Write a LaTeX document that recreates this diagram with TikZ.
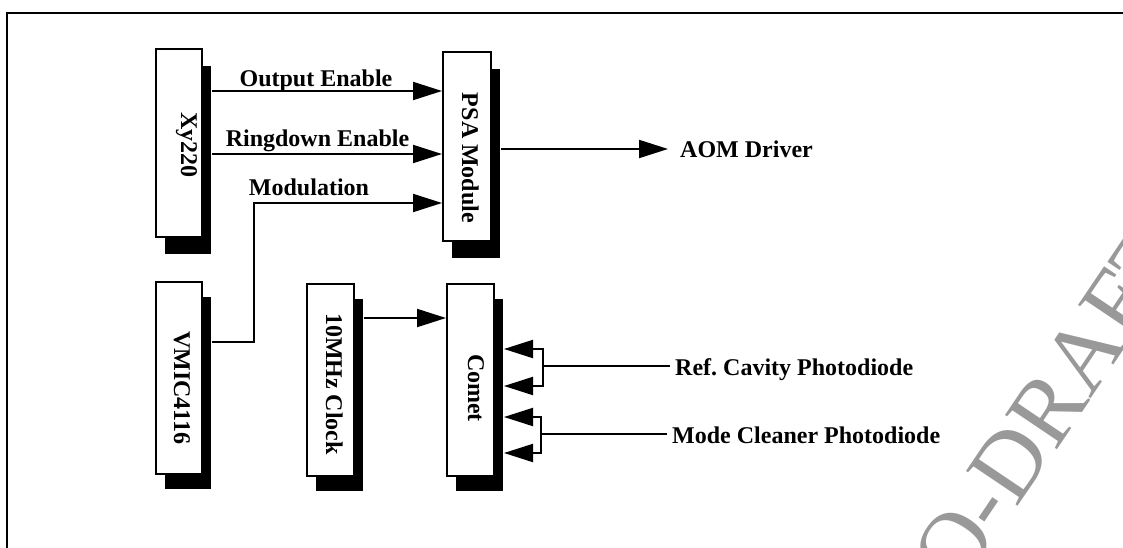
\documentclass[tikz,border=0pt]{standalone}
\usepackage{fontspec}
\setmainfont{Liberation Serif}
\usetikzlibrary{arrows.meta,shadows}
\begin{document}
\begin{tikzpicture}[x=1pt,y=-1pt,
  box/.style={draw, line width=2pt, fill=white, inner sep=0pt,
    drop shadow={shadow xshift=9pt, shadow yshift=-15pt, fill=black, opacity=1}},
  tallbox/.style={draw, line width=2pt, fill=white, inner sep=0pt,
    drop shadow={shadow xshift=9pt, shadow yshift=-17pt, fill=black, opacity=1}},
  lbl/.style={font=\fontsize{24}{28}\selectfont\bfseries, inner sep=0pt},
  vlbl/.style={lbl, rotate=-90, anchor=base},
  wire/.style={line width=2pt},
  arr/.style={wire, -{Triangle[length=29pt,width=18pt]}},
  wmark/.style={font=\fontsize{95}{100}\selectfont, text=black!40, inner sep=0pt}
]
\useasboundingbox (0,0) rectangle (1123,548);

% watermark
\begin{scope}
\clip (8,15) rectangle (1123,548);
\node[wmark, rotate=56] (wm) at (1050,404) {O-DRAFT};
\end{scope}

% frame
\draw[line width=2pt] (7,548) -- (7,13.5) -- (1123,13.5);

% boxes
\node[tallbox, minimum width=46pt, minimum height=188pt] (xy) at (179,143) {};
\node[tallbox, minimum width=48pt, minimum height=189pt] (psa) at (467,146.5) {};
\node[box, minimum width=46pt, minimum height=192pt] (vmic) at (179,378) {};
\node[box, minimum width=47pt, minimum height=192pt] (clk) at (330.5,380) {};
\node[box, minimum width=47pt, minimum height=192pt] (comet) at (470.5,380) {};

% box texts
\node[vlbl] (xyl) at (181,145) {Xy220};
\node[vlbl] (psal) at (462,158) {PSA Module};
\node[vlbl] (vmicl) at (174,388) {VMIC4116};
\node[vlbl] (clkl) at (326,384) {10MHz Clock};
\node[vlbl] (cometl) at (468,388) {Comet};

% helper coordinates
\coordinate (xyo) at ([xshift=9pt]xy.east);
\coordinate (vmo) at ([xshift=9pt]vmic.east);
\coordinate (psao) at ([xshift=9pt]psa.east);
\coordinate (clko) at ([xshift=9pt]clk.east);
\coordinate (cmo) at ([xshift=9pt]comet.east);
\coordinate (y1) at (0,91);
\coordinate (y2) at (0,154);
\coordinate (y3) at (0,203);
\coordinate (y4) at (0,318);
\coordinate (mk) at (254,342);
\coordinate (a1) at (0,349);
\coordinate (a2) at (0,386);
\coordinate (a3) at (0,417);
\coordinate (a4) at (0,453);
\coordinate (b1) at (543,366);
\coordinate (b2) at (541,434);

% labels
\node[lbl, anchor=base] (oel) at (316,87) {Output Enable};
\node[lbl, anchor=base] (rel) at (317.5,147) {Ringdown Enable};
\node[lbl, anchor=base] (modl) at (309,195) {Modulation};
\node[lbl, anchor=west] (aom) at (680,149) {AOM Driver};
\node[lbl, anchor=base west, inner xsep=5pt] (rc) at (670,375) {Ref.\ Cavity Photodiode};
\node[lbl, anchor=base west, inner xsep=5pt] (mc) at (667,443) {Mode Cleaner Photodiode};

% connectors
\draw[arr] (xyo |- y1) -- (psa.west |- y1);
\draw[arr] (xyo |- y2) -- (psa.west |- y2);
\draw[arr] (vmo |- mk) -- (mk) |- (psa.west |- y3);
\draw[arr, shorten >=12pt] (psao |- aom) -- (aom.west);
\draw[arr] (clko |- y4) -- (comet.west |- y4);

\draw[arr] (b1) |- (cmo |- a1);
\draw[arr] (b1) |- (cmo |- a2);
\draw[wire] (b1) -- (b1 -| rc.west);
\draw[arr] (b2) |- (cmo |- a3);
\draw[arr] (b2) |- (cmo |- a4);
\draw[wire] (b2) -- (b2 -| mc.west);
\end{tikzpicture}
\end{document}
